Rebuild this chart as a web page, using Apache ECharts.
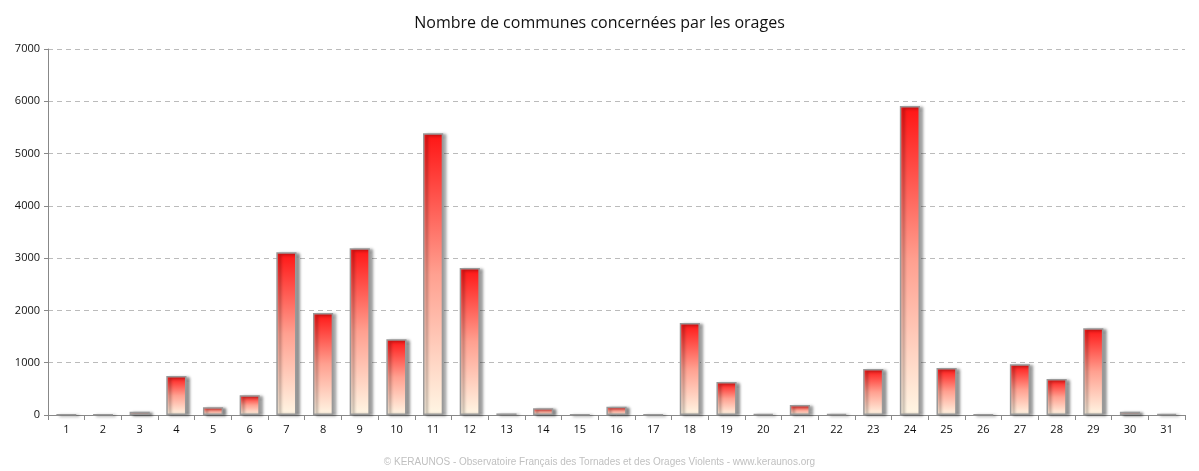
<!DOCTYPE html>
<html><head><meta charset="utf-8">
<script src="https://cdn.jsdelivr.net/npm/echarts@6/dist/echarts.min.js"></script>
<style>html,body{margin:0;padding:0;background:#fff}#c{width:1199px;height:471px}</style>
</head><body><div id="c"></div>
<script>
const categories = ["1","2","3","4","5","6","7","8","9","10","11","12","13","14","15","16","17","18","19","20","21","22","23","24","25","26","27","28","29","30","31"];
const values = [5,5,60,745,150,380,3115,1950,3190,1450,5390,2810,30,130,5,160,5,1760,630,15,190,15,880,5910,900,5,970,690,1660,60,20];
const yTicks = {min:0, max:7000, interval:1000};
const titleText = "Nombre de communes concernées par les orages";
const footerText = "© KERAUNOS - Observatoire Français des Tornades et des Orages Violents - www.keraunos.org";

const chart = echarts.init(document.getElementById('c'), null, {renderer:'canvas'});
chart.setOption({
  animation:false,
  backgroundColor:'#fff',
  title:[{text:titleText,left:'center',top:10,textStyle:{fontFamily:'Open Sans',fontSize:16,fontWeight:'normal',color:'#111'}},
         {text:footerText,left:'center',top:452,textStyle:{fontFamily:'Liberation Sans',fontSize:10,fontWeight:'normal',color:'#c0c0c0'}}],
  grid:{left:48,right:14,top:49,bottom:56},
  xAxis:{type:'category',data:categories,
    axisLine:{lineStyle:{color:'#888'}},
    axisTick:{show:true,alignWithLabel:false,length:5,lineStyle:{color:'#888'}},
    axisLabel:{color:'#111',fontSize:11,fontFamily:'Open Sans',margin:9}},
  yAxis:{type:'value',min:yTicks.min,max:yTicks.max,interval:yTicks.interval,
    axisLine:{show:true,lineStyle:{color:'#888'}},
    axisTick:{show:true,length:4,lineStyle:{color:'#888'}},
    axisLabel:{color:'#111',fontSize:11,fontFamily:'Open Sans',margin:8,formatter:v=>String(v)},
    splitLine:{lineStyle:{color:'#bbb',type:[5,4]}}},
  series:[{type:'bar',data:values,barWidth:'55%',
    itemStyle:{
      color:new echarts.graphic.LinearGradient(0,0,0,1,[{offset:0,color:'#ff1414'},{offset:0.5,color:'#ffa090'},{offset:1,color:'#fff6e4'}]),
      borderColor:'#999',borderWidth:1.5,
      shadowColor:'rgba(0,0,0,0.45)',shadowBlur:3,shadowOffsetX:3,shadowOffsetY:1}
  }]
});
</script></body></html>
